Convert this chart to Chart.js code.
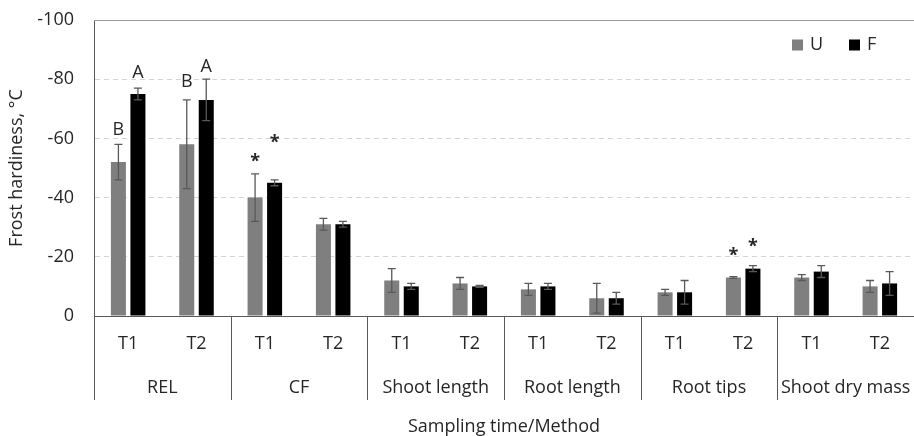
<!DOCTYPE html>
<html>
<head>
<meta charset="utf-8">
<script src="https://cdn.jsdelivr.net/npm/chart.js@4.4.1/dist/chart.umd.min.js"></script>
<style>
  html, body { margin: 0; padding: 0; background: #fff; }
  canvas { display: block; }
</style>
</head>
<body>
<canvas id="myChart" width="914" height="436"></canvas>
<script>
const methods = ['REL', 'CF', 'Shoot length', 'Root length', 'Root tips', 'Shoot dry mass'];
const times = ['T1', 'T2', 'T1', 'T2', 'T1', 'T2', 'T1', 'T2', 'T1', 'T2', 'T1', 'T2'];

const uMeans = [-52, -58, -40, -31, -12, -11, -9, -6, -8, -13, -13, -10];
const uErr   = [6, 15, 8, 2, 4, 2, 2, 5, 1, 0.3, 1, 2];
const fMeans = [-75, -73, -45, -31, -10, -10, -10, -6, -8, -16, -15, -11];
const fErr   = [2, 7, 1, 1, 1, 0.3, 1, 2, 4, 1, 2, 4];

// significance marks and the value they sit at
const uMarks  = ['B', 'B', '*', null, null, null, null, null, null, '*', null, null];
const uMarkAt = [-63, -79, -53.4, null, null, null, null, null, null, -21.6, null, null];
const fMarks  = ['A', 'A', '*', null, null, null, null, null, null, '*', null, null];
const fMarkAt = [-82, -84, -59.8, null, null, null, null, null, null, -24.7, null, null];

const FONT = '"Open Sans", sans-serif';
const TXT = '#262626';
const LINE = '#595959';

const errors = [uErr, fErr];
const marks = [[uMarks, uMarkAt], [fMarks, fMarkAt]];

const extras = {
  id: 'extras',
  afterDatasetsDraw(chart) {
    const ctx = chart.ctx;
    const y = chart.scales.y;
    const area = chart.chartArea;
    ctx.save();

    // error bars
    ctx.strokeStyle = LINE;
    ctx.lineWidth = 1.3;
    chart.data.datasets.forEach((ds, i) => {
      chart.getDatasetMeta(i).data.forEach((bar, j) => {
        const v = ds.data[j], e = errors[i][j];
        const y1 = y.getPixelForValue(v - e), y2 = y.getPixelForValue(v + e);
        ctx.beginPath();
        ctx.moveTo(bar.x, y1); ctx.lineTo(bar.x, y2);
        ctx.moveTo(bar.x - 4, y1); ctx.lineTo(bar.x + 4, y1);
        ctx.moveTo(bar.x - 4, y2); ctx.lineTo(bar.x + 4, y2);
        ctx.stroke();
      });
    });

    // letters / asterisks
    ctx.fillStyle = TXT;
    ctx.textAlign = 'center';
    ctx.textBaseline = 'middle';
    marks.forEach(([txt, at], i) => {
      chart.getDatasetMeta(i).data.forEach((bar, j) => {
        if (!txt[j]) return;
        const star = txt[j] === '*';
        ctx.font = (star ? 'bold ' : '') + '18px ' + FONT;
        ctx.fillText(txt[j], bar.x, y.getPixelForValue(at[j]) + (star ? 4 : 0));
      });
    });
    ctx.font = '18px ' + FONT;

    // top border
    ctx.strokeStyle = '#9a9a9a';
    ctx.lineWidth = 1;
    ctx.beginPath();
    ctx.moveTo(area.left, Math.round(area.top) + 0.5);
    ctx.lineTo(area.right, Math.round(area.top) + 0.5);
    ctx.stroke();

    // group separators and method labels
    const x = chart.scales.x;
    const half = (x.getPixelForValue(1) - x.getPixelForValue(0)) / 2;
    ctx.strokeStyle = LINE;
    ctx.beginPath();
    methods.forEach((m, g) => {
      const left = x.getPixelForValue(g * 2) - half;
      ctx.moveTo(Math.round(left) + 0.5, area.bottom);
      ctx.lineTo(Math.round(left) + 0.5, area.bottom + 84);
      ctx.fillText(m, left + half * 2, area.bottom + 72);
    });
    ctx.stroke();

    // legend
    const lx = area.right - 122, ly = area.top + 25;
    chart.data.datasets.forEach((ds, i) => {
      const bx = lx + i * 57;
      ctx.fillStyle = ds.backgroundColor;
      ctx.fillRect(bx, ly - 5.5, 11, 11);
      ctx.fillStyle = TXT;
      ctx.textAlign = 'left';
      ctx.fillText(ds.label, bx + 18, ly);
    });
    ctx.restore();
  }
};

const ctx = document.getElementById('myChart').getContext('2d');

const myChart = new Chart(ctx, {
  type: 'bar',
  data: {
    labels: times,
    datasets: [
      { label: 'U', data: uMeans, backgroundColor: '#7f7f7f' },
      { label: 'F', data: fMeans, backgroundColor: '#000000' }
    ]
  },
  options: {
    responsive: false,
    animation: false,
    devicePixelRatio: 1,
    layout: { padding: { top: 20, right: 0, bottom: 0, left: 0 } },
    datasets: { bar: { categoryPercentage: 0.571, barPercentage: 0.77 } },
    plugins: {
      legend: { display: false },
      tooltip: { enabled: false }
    },
    scales: {
      x: {
        grid: { display: false, drawTicks: false },
        border: { display: true, color: LINE, width: 1 },
        ticks: { color: TXT, font: { family: FONT, size: 18 }, padding: 17 },
        title: {
          display: true,
          text: 'Sampling time/Method',
          color: TXT,
          font: { family: FONT, size: 18 },
          padding: { top: 0, bottom: -1.8 }
        },
        afterFit: scale => { scale.height = 120; }
      },
      y: {
        reverse: true,
        min: -100,
        max: 0,
        ticks: { stepSize: 20, color: TXT, font: { family: FONT, size: 18 }, padding: 20 },
        grid: {
          drawTicks: false,
          color: c => (c.tick.value === -100 || c.tick.value === 0) ? 'rgba(0,0,0,0)' : '#d4d4d4'
        },
        border: { display: true, color: LINE, width: 1, dash: [5, 4] },
        title: {
          display: true,
          text: 'Frost hardiness, °C',
          color: TXT,
          font: { family: FONT, size: 18 },
          padding: { top: 6, bottom: 0 }
        },
        afterFit: scale => {
          scale.width = 94;
          scale.paddingTop = 0;
          scale.paddingBottom = 0;
        }
      }
    }
  },
  plugins: [extras]
});
</script>
</body>
</html>
